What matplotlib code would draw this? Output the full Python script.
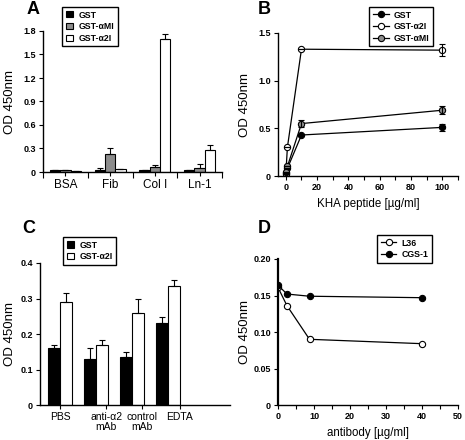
import numpy as np
import matplotlib.pyplot as plt
from matplotlib.ticker import FixedLocator, MultipleLocator

plt.rcParams['font.family'] = ['Liberation Sans', 'DejaVu Sans']

# panel A
a_cats = ['BSA', 'Fib', 'Col I', 'Ln-1']
a_gst = [0.02, 0.02, 0.02, 0.02]
a_gst_err = [0.0, 0.03, 0.0, 0.0]
a_ami = [0.02, 0.23, 0.07, 0.05]
a_ami_err = [0.0, 0.07, 0.02, 0.05]
a_a2i = [0.01, 0.04, 1.70, 0.28]
a_a2i_err = [0.0, 0.0, 0.06, 0.07]

# panel B
b_x = [0, 1, 10, 100]
b_gst = [0.03, 0.08, 0.43, 0.51]
b_gst_err = [0.0, 0.0, 0.0, 0.04]
b_a2i = [0.02, 0.30, 1.33, 1.32]
b_a2i_err = [0.0, 0.0, 0.0, 0.06]
b_ami = [0.04, 0.10, 0.55, 0.69]
b_ami_err = [0.0, 0.0, 0.04, 0.04]

# panel C
c_cats = ['PBS', 'anti-\u03b12\nmAb', 'control\nmAb', 'EDTA']
c_gst = [0.16, 0.13, 0.135, 0.23]
c_gst_err = [0.01, 0.03, 0.013, 0.018]
c_a2i = [0.29, 0.17, 0.26, 0.335]
c_a2i_err = [0.025, 0.013, 0.038, 0.018]

# panel D
d_x = [0, 2.5, 8.75, 40]
d_l36 = [0.161, 0.136, 0.090, 0.084]
d_cgs = [0.164, 0.152, 0.149, 0.147]

W, H = 465, 440
fig = plt.figure(figsize=(W / 100, H / 100), dpi=100)


def box(l, r, t, b):
    return [l / W, 1 - b / H, (r - l) / W, (b - t) / H]


def legend(ax, loc, px, py, hl):
    # legend corner placed in figure pixels
    ax.legend(loc=loc, bbox_to_anchor=(px / W, 1 - py / H), bbox_transform=fig.transFigure,
              borderaxespad=0, frameon=True, fancybox=False, edgecolor='black',
              framealpha=1, borderpad=0.4, handletextpad=0.6, handlelength=hl,
              labelspacing=0.3, prop={'weight': 'bold', 'size': 6.3})


def style(ax, label_x):
    for s in ['top', 'right']:
        ax.spines[s].set_visible(False)
    for s in ['left', 'bottom']:
        ax.spines[s].set_linewidth(1.0)
    ax.tick_params(direction='out', length=3, width=0.8, pad=2)
    for lab in ax.get_yticklabels():
        lab.set_fontsize(6.5)
        lab.set_fontweight('bold')
    ax.set_ylabel('OD 450nm', fontsize=9.5)
    pos = ax.get_position()
    ax.yaxis.set_label_coords(label_x / W, pos.y0 + pos.height / 2,
                              transform=fig.transFigure)


def fmt(vals, nd):
    return ['0' if v == 0 else f'{v:.{nd}f}' for v in vals]


# ---- A ----
ax = fig.add_axes(box(43, 222, 31, 172))
x = np.arange(len(a_cats))
w = 0.23
kw = dict(edgecolor='black', linewidth=0.8)
ax.bar(x - w, a_gst, w, color='black', label='GST', **kw)
ax.bar(x, a_ami, w, color='#8c8c8c', label='GST-\u03b1MI', **kw)
ax.bar(x + w, a_a2i, w, color='white', label='GST-\u03b12I', **kw)
ek = dict(fmt='none', ecolor='black', elinewidth=0.8, capsize=2.5, capthick=0.8)
ax.errorbar(x - w, a_gst, yerr=[np.zeros(4), a_gst_err], **ek)
ax.errorbar(x, a_ami, yerr=[np.zeros(4), a_ami_err], **ek)
ax.errorbar(x + w, a_a2i, yerr=[np.zeros(4), a_a2i_err], **ek)
ax.set_xlim(-0.5, 3.5)
ax.set_ylim(0, 1.8)
yt = [0, 0.3, 0.6, 0.9, 1.2, 1.5, 1.8]
ax.set_yticks(yt)
ax.set_yticklabels(fmt(yt, 1))
ax.set_xticks(x)
ax.set_xticklabels(a_cats, fontsize=8.5)
ax.xaxis.set_minor_locator(FixedLocator([-0.5, 0.5, 1.5, 2.5, 3.5]))
ax.tick_params(axis='x', which='major', length=0, pad=6)
ax.tick_params(axis='x', which='minor', length=4, width=0.8)
style(ax, 16)
legend(ax, 'upper left', 62, 7, 0.9)
fig.text(27 / W, 1 - 14 / H, 'A', fontsize=13, fontweight='bold')

# ---- B ----
ax = fig.add_axes(box(278, 458, 33, 176))
lk = dict(color='black', linewidth=0.9, markersize=4.5, markeredgecolor='black',
          markeredgewidth=0.8)
ek2 = dict(fmt='none', ecolor='black', capsize=2, elinewidth=0.8, capthick=0.8)
ax.plot(b_x, b_gst, marker='o', markerfacecolor='black', label='GST', **lk)
ax.plot(b_x, b_a2i, marker='o', markerfacecolor='white', label='GST-\u03b12I', **lk)
ax.plot(b_x, b_ami, marker='o', markerfacecolor='#8c8c8c', label='GST-\u03b1MI', **lk)
ax.errorbar(b_x, b_gst, yerr=b_gst_err, **ek2)
ax.errorbar(b_x, b_a2i, yerr=b_a2i_err, **ek2)
ax.errorbar(b_x, b_ami, yerr=b_ami_err, **ek2)
ax.set_xlim(-5, 110)
ax.set_ylim(0, 1.5)
ax.set_xticks([0, 20, 40, 60, 80, 100])
ax.xaxis.set_minor_locator(MultipleLocator(10))
ax.tick_params(axis='x', which='minor', length=3, width=0.8)
yt = [0, 0.5, 1.0, 1.5]
ax.set_yticks(yt)
ax.set_yticklabels(fmt(yt, 1))
for lab in ax.get_xticklabels():
    lab.set_fontsize(6.5)
    lab.set_fontweight('bold')
style(ax, 251)
ax.set_xlabel('KHA peptide [\u00b5g/ml]', fontsize=8.3, labelpad=4)
legend(ax, 'upper right', 433, 7, 1.8)
fig.text(258 / W, 1 - 14 / H, 'B', fontsize=13, fontweight='bold')

# ---- C ----
ax = fig.add_axes(box(40, 230, 263, 405))
x = np.arange(len(c_cats))
w = 0.34
ax.bar(x - w / 2, c_gst, w, color='black', label='GST', **kw)
ax.bar(x + w / 2, c_a2i, w, color='white', label='GST-\u03b12I', **kw)
ax.errorbar(x - w / 2, c_gst, yerr=[np.zeros(4), c_gst_err], **ek)
ax.errorbar(x + w / 2, c_a2i, yerr=[np.zeros(4), c_a2i_err], **ek)
ax.set_xlim(-0.56, 4.72)
ax.set_ylim(0, 0.4)
yt = [0, 0.1, 0.2, 0.3, 0.4]
ax.set_yticks(yt)
ax.set_yticklabels(fmt(yt, 1))
ax.set_xticks(x + np.array([0, 0.28, 0.28, 0.33]))
ax.set_xticklabels(c_cats, fontsize=7.5, linespacing=1.0, va='top')
ax.tick_params(axis='x', length=0, pad=8)
style(ax, 16)
legend(ax, 'upper left', 63, 237, 0.9)
fig.text(22 / W, 1 - 233 / H, 'C', fontsize=13, fontweight='bold')

# ---- D ----
ax = fig.add_axes(box(278, 458, 259, 405))
ax.plot(d_x, d_l36, marker='o', markerfacecolor='white', label='L36', **lk)
ax.plot(d_x, d_cgs, marker='o', markerfacecolor='black', label='CGS-1', **lk)
ax.set_xlim(0, 50)
ax.set_ylim(0, 0.2)
ax.set_xticks([0, 10, 20, 30, 40, 50])
ax.xaxis.set_minor_locator(MultipleLocator(5))
ax.tick_params(axis='x', which='minor', length=3, width=0.8)
yt = [0, 0.05, 0.10, 0.15, 0.20]
ax.set_yticks(yt)
ax.set_yticklabels(fmt(yt, 2))
for lab in ax.get_xticklabels():
    lab.set_fontsize(6.5)
    lab.set_fontweight('bold')
style(ax, 251)
ax.spines['left'].set_linewidth(1.6)
ax.set_xlabel('antibody [\u00b5g/ml]', fontsize=8.3, labelpad=4)
legend(ax, 'upper right', 432, 235, 1.8)
fig.text(258 / W, 1 - 233 / H, 'D', fontsize=13, fontweight='bold')

fig.savefig('out.png', dpi=100)
